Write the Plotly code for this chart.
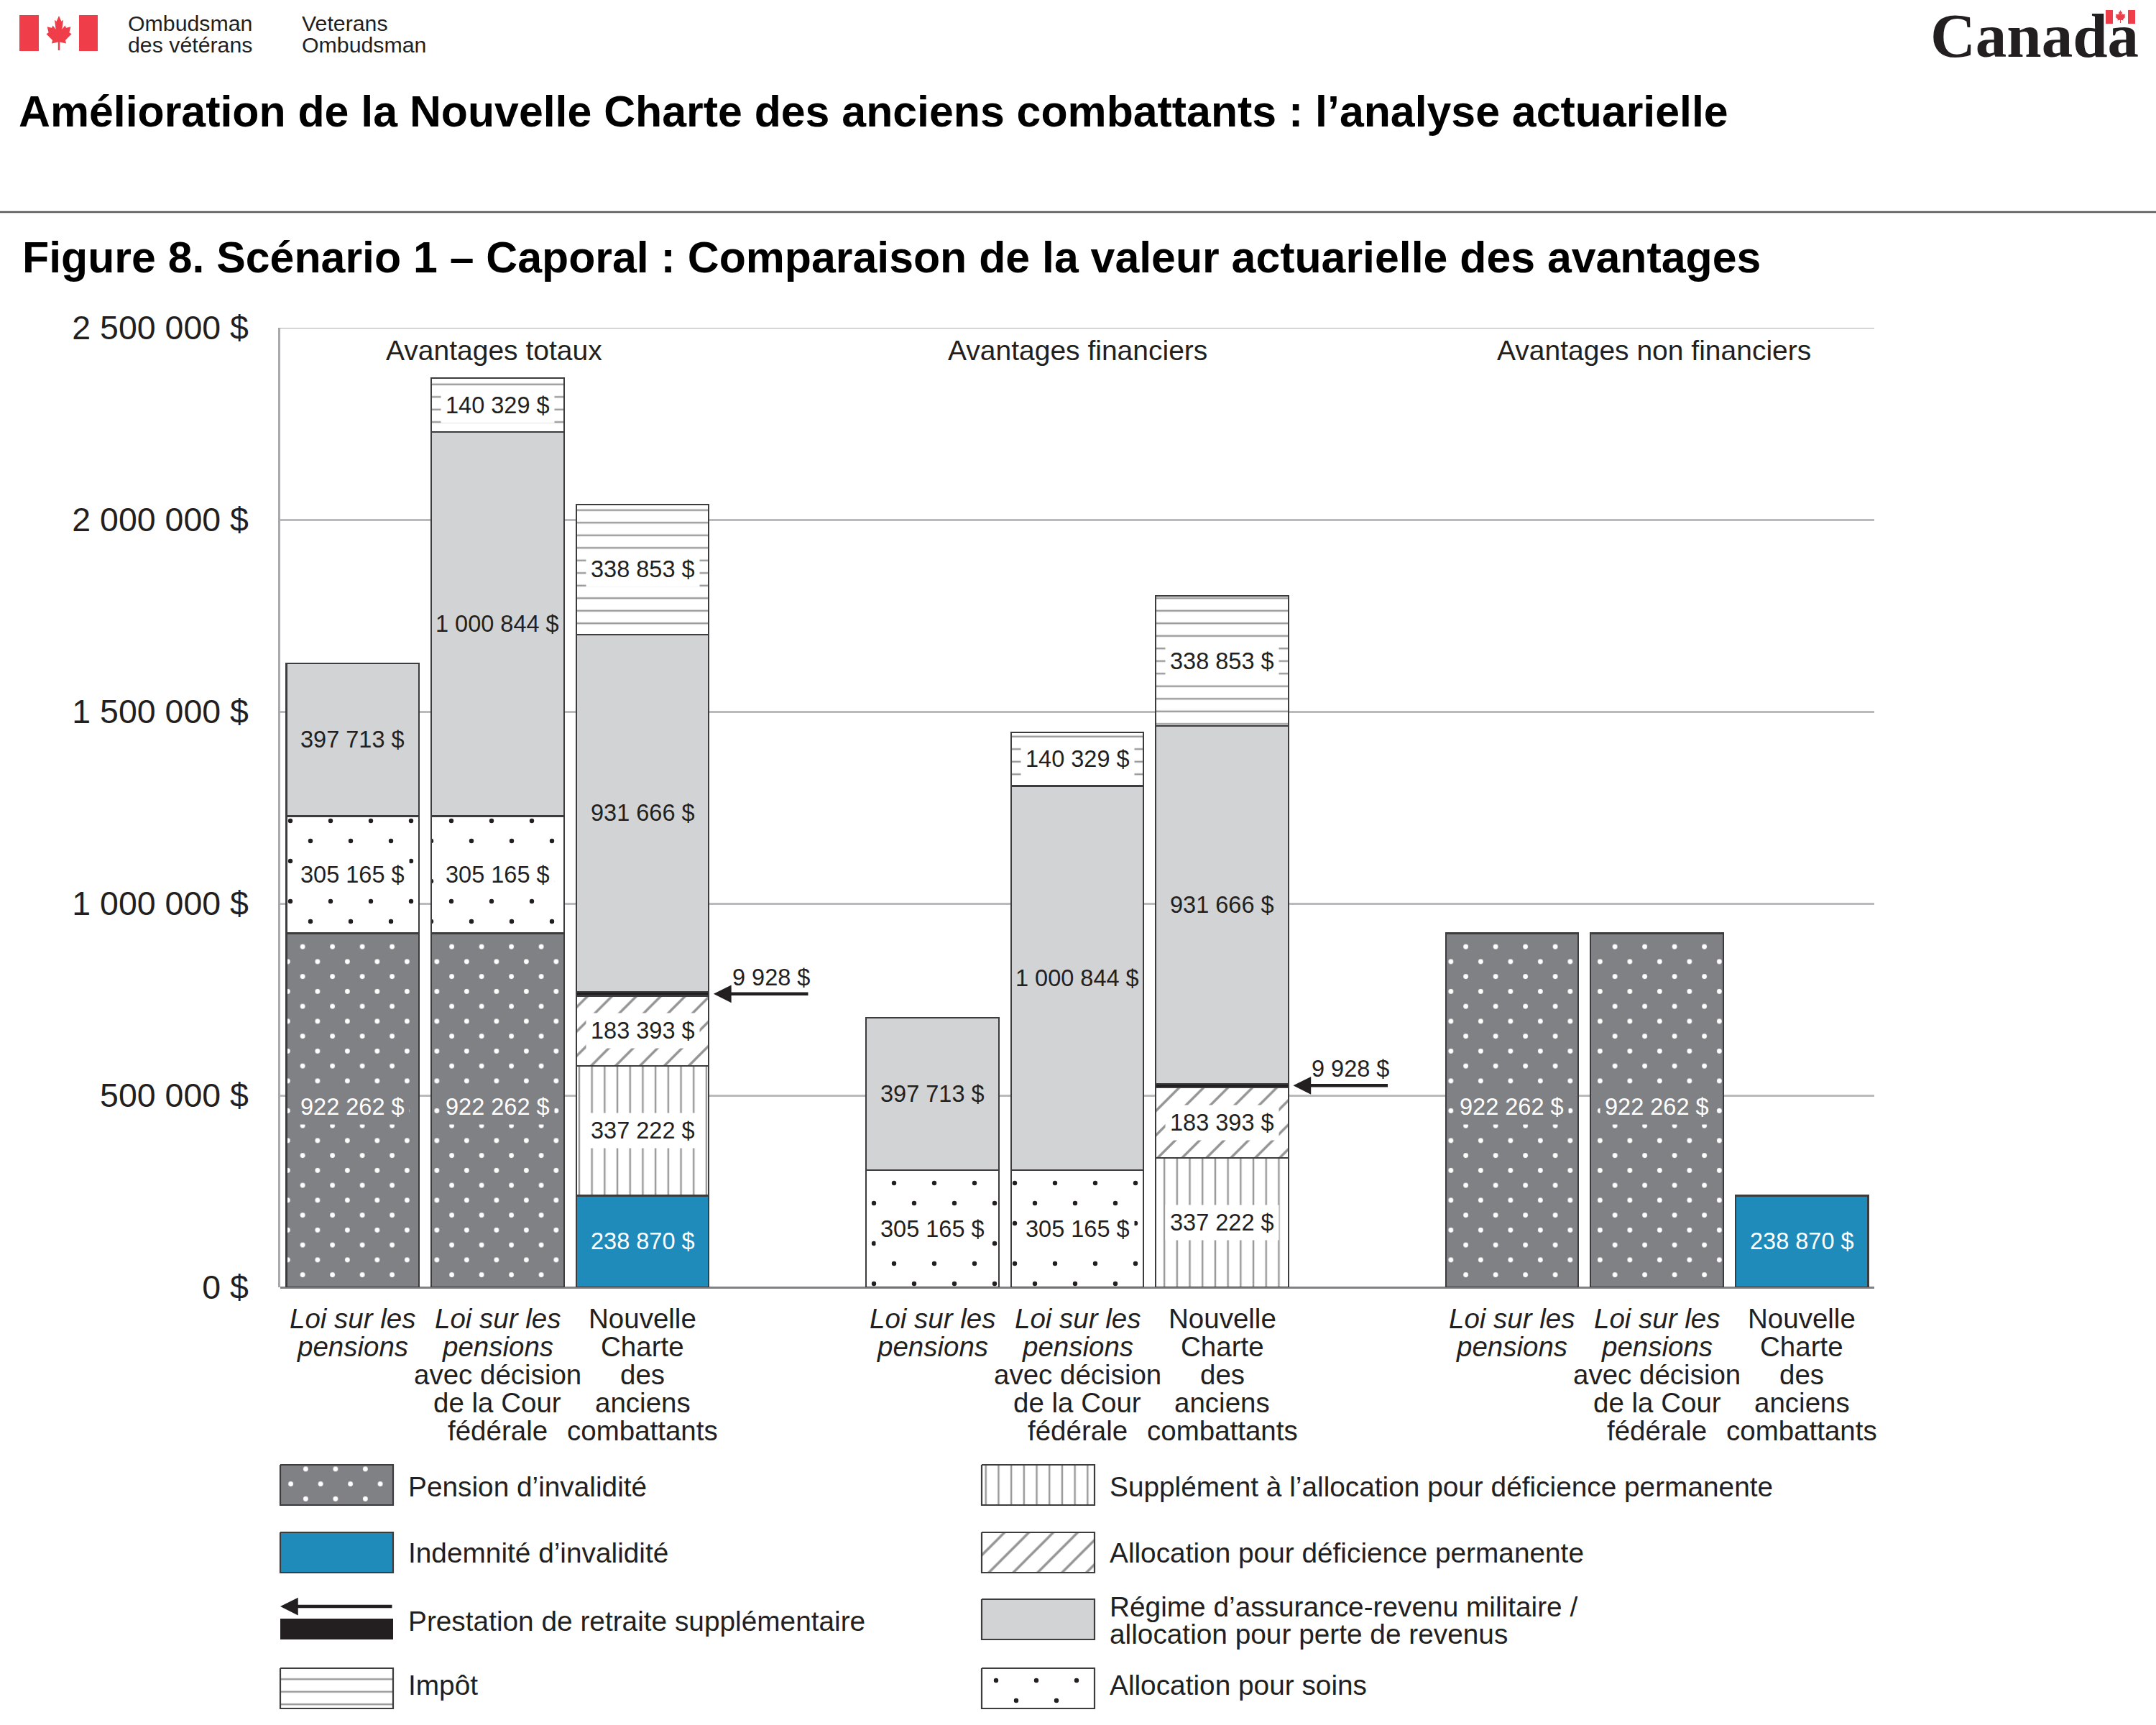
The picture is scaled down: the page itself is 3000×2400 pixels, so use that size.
import plotly.graph_objects as go

W, H = 3000, 2400
SANS = "Liberation Sans"
INK = "#231f20"

# ---------- data ----------
LOI = ["<i>Loi sur les</i>", "<i>pensions</i>"]
COUR = LOI + ["avec décision", "de la Cour", "fédérale"]
NCAC = ["Nouvelle", "Charte", "des", "anciens", "combattants"]
BAR_LABELS = [LOI, COUR, NCAC] * 3
GROUP_TITLES = ["Avantages totaux", "Avantages financiers", "Avantages non financiers"]

pension = [922262, 922262, None, None, None, None, 922262, 922262, None]
indemnite = [None, None, 238870, None, None, None, None, None, 238870]
soins = [305165, 305165, None, 305165, 305165, None, None, None, None]
supplement = [None, None, 337222, None, None, 337222, None, None, None]
deficience = [None, None, 183393, None, None, 183393, None, None, None]
retraite = [None, None, 9928, None, None, 9928, None, None, None]
revenu = [397713, 1000844, 931666, 397713, 1000844, 931666, None, None, None]
impot = [None, 140329, 338853, None, 140329, 338853, None, None, None]

Y_TICKS = [0, 500000, 1000000, 1500000, 2000000, 2500000]
Y_TICK_TEXT = ["0 $", "500 000 $", "1 000 000 $", "1 500 000 $", "2 000 000 $", "2 500 000 $"]

slots = [g * 4 + b for g in range(3) for b in range(3)]
LABEL_SIZE = 32.5


def fmt(v):
    return f"{v:,}".replace(",", "\u00a0") + "\u00a0$"


def dots(tile, r):
    out = ""
    for c in (tile / 4, 3 * tile / 4):
        out += f"M{c - r},{c}a{r},{r} 0 1,0 {2 * r},0a{r},{r} 0 1,0 {-2 * r},0Z"
    return out


P_PENSION = dict(path=dots(41.5, 3.4), size=41.5, fgcolor="#ffffff", bgcolor="#808184", fgopacity=1)
P_SOINS = dict(path=dots(56, 3.2), size=56, fgcolor=INK, bgcolor="#ffffff", fgopacity=1)
P_SUPP = dict(shape="|", size=17.7, solidity=0.14, fgcolor="#333333", bgcolor="#ffffff")
P_DEF = dict(shape="/", size=24, solidity=0.14, fgcolor="#2a2a2a", bgcolor="#ffffff")
P_IMPOT = dict(shape="-", size=17.5, solidity=0.14, fgcolor="#333333", bgcolor="#ffffff")

SERIES = [
    ("Pension d’invalidité", pension, "#808184", P_PENSION, "#ffffff", "#808184"),
    ("Indemnité d’invalidité", indemnite, "#1f8bbb", None, "#ffffff", None),
    ("Allocation pour soins", soins, "#ffffff", P_SOINS, INK, "#ffffff"),
    ("Supplément à l’allocation pour déficience permanente", supplement, "#ffffff", P_SUPP, INK, "#ffffff"),
    ("Allocation pour déficience permanente", deficience, "#ffffff", P_DEF, INK, "#ffffff"),
    ("Prestation de retraite supplémentaire", retraite, INK, None, None, None),
    ("Régime d’assurance-revenu militaire / allocation pour perte de revenus", revenu, "#d1d3d4", None, INK, None),
    ("Impôt", impot, "#ffffff", P_IMPOT, INK, "#ffffff"),
]

fig = go.Figure()
annots = []
base = {s: 0 for s in slots}

for name, vals, color, pat, txt, bg in SERIES:
    marker = dict(color=color, line=dict(color="#3c3c3e", width=2.2))
    if pat:
        marker["pattern"] = pat
    fig.add_trace(go.Bar(x=slots, y=vals, name=name, width=0.915, marker=marker, showlegend=False))
    for s, v in zip(slots, vals):
        if v is None:
            continue
        mid = base[s] + v / 2
        base[s] += v
        if txt is None:
            annots.append(dict(x=s + 0.49, y=mid, ax=s + 1.15, ay=mid, xref="x", yref="y", axref="x", ayref="y",
                               text="", showarrow=True, arrowhead=2, arrowsize=1.1, arrowwidth=4.5, arrowcolor=INK))
            annots.append(dict(x=s + 0.885, y=mid, xref="x", yref="y", yshift=23, text=fmt(v), showarrow=False,
                               font=dict(family=SANS, size=LABEL_SIZE, color=INK)))
            continue
        ann = dict(x=s, y=mid, xref="x", yref="y", text=fmt(v), showarrow=False,
                   yshift=5 if vals is pension else 0,
                   font=dict(family=SANS, size=LABEL_SIZE, color=txt), borderpad=6)
        if bg:
            ann["bgcolor"] = bg
        annots.append(ann)

for s, lines in zip(slots, BAR_LABELS):
    for i, line in enumerate(lines):
        annots.append(dict(x=s, xref="x", y=1834 + i * 39, yref="y2", text=line, showarrow=False,
                           font=dict(family=SANS, size=38.5, color=INK)))

for g, (title, shift) in enumerate(zip(GROUP_TITLES, [-5, 0, -4])):
    annots.append(dict(x=g * 4 + 1, xref="x", xshift=shift, y=487, yref="y2", text=title, showarrow=False,
                       font=dict(family=SANS, size=39, color=INK)))


def ptext(x, y, text, size=38.8, family=SANS, color=INK, anchor="left", bold=False):
    annots.append(dict(x=x, y=y, xref="x2", yref="y2", text=f"<b>{text}</b>" if bold else text, showarrow=False,
                       xanchor=anchor, font=dict(family=family, size=size, color=color)))


ptext(176, 32, "Ombudsman", 30.3)
ptext(176, 62, "des vétérans", 30.3)
ptext(418, 32, "Veterans", 30.3)
ptext(418, 62, "Ombudsman", 30.3)
ptext(2684, 49, "Canada", 87, "Liberation Serif", bold=True)
ptext(24, 155, "Amélioration de la Nouvelle Charte des anciens combattants : l’analyse actuarielle", 60.8, color="#000000", bold=True)
ptext(29, 358, "Figure 8. Scénario 1 – Caporal : Comparaison de la valeur actuarielle des avantages", 60.8, color="#000000", bold=True)

COL1, COL2, SW = 390, 1366, 157
LEGEND = [
    (COL1, 2038, P_PENSION, "#808184"),
    (COL1, 2132, None, "#1f8bbb"),
    (COL1, 2321, P_IMPOT, "#ffffff"),
    (COL2, 2038, P_SUPP, "#ffffff"),
    (COL2, 2132, P_DEF, "#ffffff"),
    (COL2, 2225, None, "#d1d3d4"),
    (COL2, 2321, P_SOINS, "#ffffff"),
]
for x0, y0, pat, col in LEGEND:
    t = dict(x=[x0, x0 + SW, x0 + SW, x0, x0], y=[y0, y0, y0 + 56, y0 + 56, y0], mode="lines", fill="toself",
             fillcolor=col, line=dict(color="#3c3c3e", width=2.2), xaxis="x2", yaxis="y2", showlegend=False,
             hoverinfo="skip")
    if pat:
        t["fillpattern"] = pat
    fig.add_trace(go.Scatter(**t))

ptext(566, 2068, "Pension d’invalidité")
ptext(566, 2160, "Indemnité d’invalidité")
ptext(566, 2255, "Prestation de retraite supplémentaire")
ptext(566, 2344, "Impôt")
ptext(1542, 2068, "Supplément à l’allocation pour déficience permanente")
ptext(1542, 2160, "Allocation pour déficience permanente")
ptext(1542, 2235, "Régime d’assurance-revenu militaire /")
ptext(1542, 2273, "allocation pour perte de revenus")
ptext(1542, 2344, "Allocation pour soins")
annots.append(dict(x=390, y=2235, ax=547, ay=2235, xref="x2", yref="y2", axref="x2", ayref="y2", text="",
                   showarrow=True, arrowhead=2, arrowsize=1.1, arrowwidth=4.5, arrowcolor=INK))


def rect(x0, y0, x1, y1, color):
    return dict(type="rect", x0=x0, y0=y0, x1=x1, y1=y1, xref="x2", yref="y2", fillcolor=color, line_width=0)


def leaf(cx, cy, sx, sy):
    half = [(0, 1), (.17, .68), (.3, .76), (.22, .22), (.42, .44), (.5, .3), (.82, .36), (.72, .03), (.88, -.05),
            (.45, -.42), (.5, -.6), (.06, -.52), (.06, -1)]
    pts = half + [(-a, b) for a, b in reversed(half)]
    d = "M" + "L".join(f"{cx + a * sx},{cy - b * sy}" for a, b in pts) + "Z"
    return dict(type="path", path=d, xref="x2", yref="y2", fillcolor="#ef3e4a", line_width=0)


RED = "#ef3e4a"
shapes = [
    rect(27, 21, 54, 71, RED), rect(110, 21, 136, 71, RED), leaf(82, 46, 20, 24),
    rect(2930, 14, 2940, 33, RED), rect(2961, 14, 2971, 33, RED), leaf(2950.5, 23, 8, 9),
    rect(390, 2252, 547, 2281, INK),
    dict(type="line", x0=0, x1=3000, y0=295, y1=295, xref="x2", yref="y2", line=dict(color="#58595b", width=2.5)),
    dict(type="line", x0=0, x1=1, xref="x domain", y0=Y_TICKS[-1], y1=Y_TICKS[-1], yref="y", layer="below",
         line=dict(color="#b9babb", width=2.5)),
]

fig.update_layout(
    width=W, height=H, margin=dict(l=0, r=0, t=0, b=0, autoexpand=False), paper_bgcolor="white",
    plot_bgcolor="rgba(0,0,0,0)",
    barmode="stack", annotations=annots, shapes=shapes, showlegend=False,
    xaxis=dict(domain=[390 / W, 2608 / W], range=[-0.5, 10.5], showgrid=False, showticklabels=False, ticks="",
               zeroline=False, showline=False, fixedrange=True),
    yaxis=dict(domain=[1 - 1791 / H, 1 - 456 / H], range=[0, 2500000], tickvals=Y_TICKS, ticktext=Y_TICK_TEXT,
               tickfont=dict(family=SANS, size=46.5, color=INK), ticks="outside", ticklen=32, tickcolor="rgba(0,0,0,0)",
               gridcolor="#b9babb", gridwidth=2.5, zeroline=True, zerolinecolor="#808184", zerolinewidth=3,
               showline=True, linecolor="#a7a9ac", linewidth=2.5, fixedrange=True),
    xaxis2=dict(domain=[0, 1], range=[0, W], visible=False, anchor="y2", fixedrange=True),
    yaxis2=dict(domain=[0, 1], range=[H, 0], visible=False, anchor="x2", fixedrange=True),
)

fig.write_html("out.html", config=dict(displayModeBar=False), post_script="document.body.style.margin='0';")
